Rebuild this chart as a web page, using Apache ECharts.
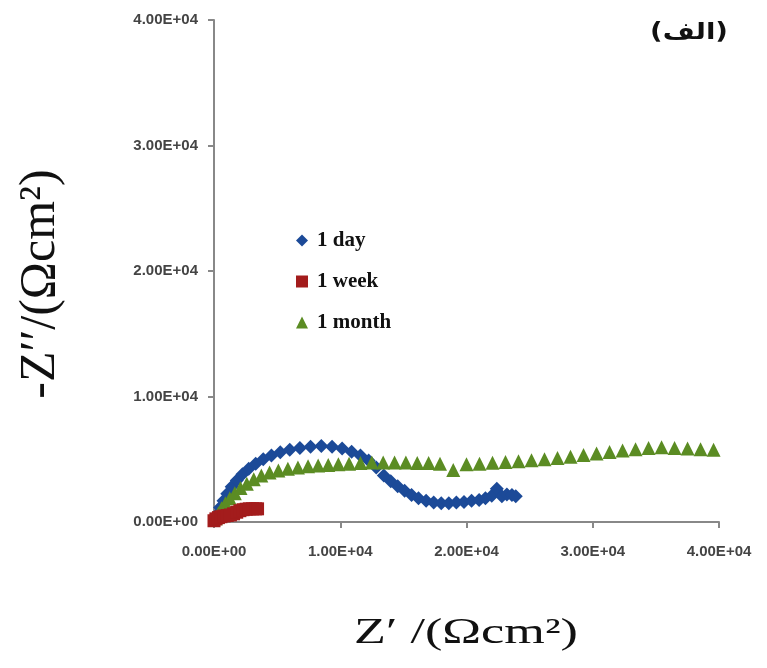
<!DOCTYPE html>
<html>
<head>
<meta charset="utf-8">
<script src="https://cdn.jsdelivr.net/npm/echarts@6/dist/echarts.min.js"></script>
<style>html,body{margin:0;padding:0;background:#fff}#c{width:767px;height:668px}</style>
</head>
<body>
<div id="c"></div>
<script>
// 1 day (blue diamonds)
var dayX = [80, 250, 480, 750, 1050, 1400, 1800, 2250, 2750, 3300, 3900, 4550, 5250, 6000, 6800, 7650, 8500, 9350, 10150, 10900, 11600, 12250, 12850, 13450, 14000, 14550, 15100, 15650, 16200, 16800, 17400, 18000, 18600, 19200, 19800, 20400, 21000, 21500, 22000, 22400, 22800, 23200, 23600, 23900];
var dayY = [150, 600, 1150, 1700, 2250, 2800, 3300, 3800, 4250, 4650, 5000, 5300, 5550, 5750, 5900, 6000, 6050, 6000, 5850, 5600, 5300, 4900, 4350, 3700, 3250, 2850, 2500, 2150, 1900, 1700, 1550, 1500, 1500, 1550, 1600, 1700, 1750, 1900, 2100, 2650, 2050, 2200, 2150, 2050];
// 1 week (red squares)
var weekX = [0, 150, 350, 550, 800, 1050, 1300, 1550, 1800, 2050, 2300, 2550, 2800, 3050, 3300, 3450];
var weekY = [100, 250, 350, 420, 480, 520, 560, 650, 780, 900, 980, 1020, 1050, 1050, 1050, 1050];
// 1 month (green triangles)
var monthX = [150, 350, 600, 900, 1250, 1650, 2100, 2600, 3150, 3750, 4400, 5100, 5850, 6650, 7450, 8250, 9050, 9850, 10700, 11600, 12500, 13400, 14300, 15200, 16100, 17000, 17900, 18950, 20000, 21030, 22060, 23090, 24120, 25150, 26180, 27210, 28240, 29270, 30300, 31330, 32360, 33390, 34420, 35450, 36480, 37510, 38540, 39570];
var monthY = [300, 700, 1100, 1500, 1900, 2300, 2700, 3050, 3400, 3700, 3950, 4100, 4250, 4350, 4450, 4500, 4550, 4600, 4650, 4700, 4750, 4750, 4750, 4750, 4700, 4700, 4650, 4150, 4600, 4650, 4720, 4780, 4850, 4920, 5000, 5100, 5200, 5330, 5450, 5580, 5700, 5800, 5900, 5950, 5900, 5850, 5800, 5750];
var seriesNames = ['1 day', '1 week', '1 month'];

function pairs(xs, ys) { return xs.map(function (x, i) { return [x, ys[i]]; }); }
function sci(v) {
  if (v === 0) return '0.00E+00';
  var e = Math.floor(Math.log10(Math.abs(v)));
  var m = v / Math.pow(10, e);
  var es = (e < 0 ? '-' : '+') + (Math.abs(e) < 10 ? '0' : '') + Math.abs(e);
  return m.toFixed(2) + 'E' + es;
}

var chart = echarts.init(document.getElementById('c'));
var axisLabel = { formatter: sci, fontFamily: 'Liberation Sans', fontWeight: 'bold', fontSize: 15, color: '#444' };
chart.setOption({
  animation: false,
  backgroundColor: '#fff',
  grid: { left: 214, right: 48, top: 20, bottom: 146, containLabel: false },
  xAxis: {
    type: 'value', min: 0, max: 40000, interval: 10000,
    axisLine: { lineStyle: { color: '#888', width: 2 } },
    axisTick: { show: true, length: 6, lineStyle: { color: '#888', width: 2 } },
    splitLine: { show: false },
    axisLabel: Object.assign({ margin: 22 }, axisLabel)
  },
  yAxis: {
    type: 'value', min: 0, max: 40000, interval: 10000,
    axisLine: { show: true, lineStyle: { color: '#888', width: 2 } },
    axisTick: { show: true, length: 6, lineStyle: { color: '#888', width: 2 } },
    splitLine: { show: false },
    axisLabel: Object.assign({ margin: 16 }, axisLabel)
  },
  legend: {
    orient: 'vertical', left: 291, top: 225, itemGap: 20, itemWidth: 12, itemHeight: 12,
    data: [
      { name: '1 day', icon: 'diamond' },
      { name: '1 week', icon: 'rect' },
      { name: '1 month', icon: 'triangle' }
    ],
    textStyle: { fontFamily: 'Liberation Serif', fontWeight: 'bold', fontSize: 21, color: '#111', padding: [0, 0, 0, 4] }
  },
  graphic: [
    { type: 'text', x: 689, y: 33, scaleX: 1.2,
      style: { text: '(\u0627\u0644\u0641)', font: 'bold 23px "DejaVu Sans"', fill: '#111', align: 'center', verticalAlign: 'middle' } },
    { type: 'text', x: 466, y: 634, scaleX: 1.45,
      style: { text: 'Z\u2032 /(\u03A9cm\u00B2)', font: '36px "Liberation Serif"', fill: '#111', align: 'center', verticalAlign: 'middle' } },
    { type: 'text', x: 41, y: 284, rotation: Math.PI / 2,
      style: { text: '-Z\u2032\u2032/(\u03A9cm\u00B2)', font: '50px "Liberation Serif"', fill: '#111', align: 'center', verticalAlign: 'middle' } }
  ],
  series: [
    { name: seriesNames[0], type: 'scatter', symbol: 'diamond', symbolSize: 14, z: 2,
      itemStyle: { color: '#1C4A98', opacity: 1 }, data: pairs(dayX, dayY) },
    { name: seriesNames[1], type: 'scatter', symbol: 'rect', symbolSize: 13, z: 4,
      itemStyle: { color: '#A31C1C', opacity: 1 }, data: pairs(weekX, weekY) },
    { name: seriesNames[2], type: 'scatter', symbol: 'triangle', symbolSize: 14, z: 3,
      itemStyle: { color: '#5B8C23', opacity: 1 }, data: pairs(monthX, monthY) }
  ]
});
</script>
</body>
</html>
